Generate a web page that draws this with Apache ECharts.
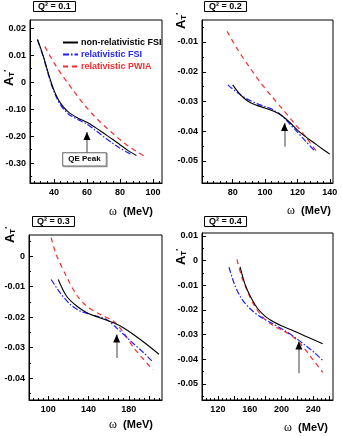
<!DOCTYPE html>
<html>
<head>
<meta charset="utf-8">
<script src="https://cdn.jsdelivr.net/npm/echarts@6/dist/echarts.min.js"></script>
<style>
html,body{margin:0;padding:0;background:#fff}
#chart{width:342px;height:436px}
</style>
</head>
<body>
<div id="chart"></div>
<script>
// omega (MeV), A_T' pairs
var q1NonRel = [[30,0.0158],[32,0.0125],[34,0.0088],[36,0.0045],[38,0.0005],[40,-0.003],[42,-0.0057],[44,-0.0078],[46,-0.0094],[48,-0.0107],[50,-0.0117],[55,-0.0135],[60,-0.0149],[65,-0.0168],[70,-0.0189],[75,-0.021],[80,-0.0232],[85,-0.0254],[90,-0.0272]];
var q1RelFsi = [[30,0.0158],[32,0.0122],[34,0.0083],[36,0.004],[38,0.0],[40,-0.0035],[42,-0.0063],[44,-0.0085],[46,-0.0101],[48,-0.0114],[50,-0.0124],[55,-0.014],[60,-0.0156],[65,-0.0178],[70,-0.0202],[75,-0.0224],[80,-0.0245],[85,-0.0262],[87,-0.0269]];
var q1Pwia = [[34.5,0.0132],[37.5,0.0098],[40,0.0072],[44,0.0034],[48,0.0],[52,-0.0033],[56,-0.0066],[60,-0.0096],[64,-0.0123],[68,-0.0148],[72,-0.017],[76,-0.0192],[80,-0.0213],[85,-0.0237],[90,-0.0257],[95,-0.0275]];

var q2NonRel = [[80,-0.0244],[83,-0.0266],[87,-0.0289],[91,-0.0304],[95,-0.0313],[100,-0.0322],[105,-0.0332],[110,-0.0346],[115,-0.0369],[120,-0.0396],[125,-0.0418],[130,-0.0438],[135,-0.0458],[140,-0.0477]];
var q2RelFsi = [[77,-0.0244],[83,-0.0271],[89,-0.0292],[95,-0.0307],[100,-0.0317],[105,-0.0328],[110,-0.0346],[115,-0.0374],[120,-0.0403],[125,-0.0433],[131,-0.0468]];
var q2Pwia = [[76.5,-0.0064],[83,-0.0125],[90,-0.0182],[97,-0.0235],[104,-0.0282],[111,-0.0327],[118,-0.0373],[125,-0.0418],[132,-0.047]];

var q3NonRel = [[110,-0.0077],[118,-0.013],[128,-0.0163],[138,-0.0185],[150,-0.0201],[165,-0.0219],[175,-0.0236],[185,-0.0258],[198,-0.029],[210,-0.0322]];
var q3RelFsi = [[103,-0.0077],[112,-0.0121],[122,-0.0159],[132,-0.0181],[145,-0.0194],[158,-0.0208],[168,-0.0236],[182,-0.0279],[195,-0.0318],[204,-0.0347]];
var q3Pwia = [[103,0.006],[108,0.0005],[118,-0.0066],[128,-0.0126],[138,-0.0164],[152,-0.0192],[165,-0.0214],[175,-0.0252],[185,-0.0301],[195,-0.034],[204,-0.0373]];

var q4NonRel = [[148,-0.0025],[154,-0.0094],[162,-0.0152],[170,-0.0194],[180,-0.0227],[190,-0.0248],[200,-0.0264],[215,-0.0284],[232,-0.0309],[252,-0.0337]];
var q4RelFsi = [[134,-0.0027],[141,-0.0097],[150,-0.0155],[160,-0.0193],[171,-0.0222],[187,-0.0252],[204,-0.0283],[217,-0.0311],[230,-0.0343],[242,-0.0374],[253,-0.0408]];
var q4Pwia = [[144,0.0005],[150,-0.0065],[158,-0.013],[166,-0.0183],[177,-0.0231],[188,-0.026],[200,-0.0281],[213,-0.0304],[225,-0.0341],[238,-0.0394],[252,-0.0453]];

// tick labels
var q1XLabels = [40, 60, 80, 100];
var q1YLabels = [0.02, 0.01, 0, -0.01, -0.02, -0.03];
var q1YText = ['0.02', '0.01', '0', '-0.10', '-0.20', '-0.30'];
var q2XLabels = [80, 100, 120, 140];
var q2YLabels = [-0.01, -0.02, -0.03, -0.04, -0.05];
var q3XLabels = [100, 140, 180];
var q3YLabels = [0, -0.01, -0.02, -0.03, -0.04];
var q4XLabels = [120, 160, 200, 240];
var q4YLabels = [0.01, 0, -0.01, -0.02, -0.03, -0.04, -0.05];

var font = 'Liberation Sans, Arial, sans-serif';
var names = ['non-relativistic FSI', 'relativistic FSI', 'relativistic PWIA'];

function steps(a, b, s) {
    var out = [];
    for (var v = a; v <= b + s / 1000; v += s) out.push(Math.round(v * 1e6) / 1e6);
    return out;
}

var panels = [
    {q: '0.1', d: [q1NonRel, q1RelFsi, q1Pwia], grid: {left: 30, top: 20, width: 132, height: 163},
     xMin: 25.5, xMax: 105.5, yMin: -0.0374, yMax: 0.023,
     xLab: q1XLabels, xMaj: steps(40, 100, 20), xMin2: steps(28, 104, 4),
     yLab: q1YLabels, yText: q1YText, yMaj: steps(-0.03, 0.02, 0.01), yMinor: steps(-0.035, 0.015, 0.01),
     arrow: [60, -0.0263, -0.0185], title: [33, 1], yName: [9, 78], xName: [153, 212]},
    {q: '0.2', d: [q2NonRel, q2RelFsi, q2Pwia], grid: {left: 202, top: 20, width: 131, height: 163},
     xMin: 61, xMax: 142, yMin: -0.0574, yMax: -0.0026,
     xLab: q2XLabels, xMaj: steps(80, 140, 20), xMin2: steps(64, 140, 4),
     yLab: q2YLabels, yMaj: steps(-0.05, -0.01, 0.01), yMinor: steps(-0.055, -0.005, 0.01),
     arrow: [112, -0.0452, -0.0372], title: [204, 1], yName: [181, 21], xName: [331, 211]},
    {q: '0.3', d: [q3NonRel, q3RelFsi, q3Pwia], grid: {left: 29, top: 235, width: 133, height: 165},
     xMin: 81, xMax: 213, yMin: -0.0472, yMax: 0.0069,
     xLab: q3XLabels, xMaj: steps(100, 200, 20), xMin2: steps(85, 210, 5),
     yLab: q3YLabels, yMaj: steps(-0.04, 0, 0.01), yMinor: steps(-0.045, 0.005, 0.01),
     arrow: [168, -0.0334, -0.0257], title: [32, 216], yName: [10, 235], xName: [153, 425]},
    {q: '0.4', d: [q4NonRel, q4RelFsi, q4Pwia], grid: {left: 202, top: 233, width: 131, height: 167},
     xMin: 100, xMax: 265, yMin: -0.0565, yMax: 0.0112,
     xLab: q4XLabels, xMaj: steps(120, 260, 20), xMin2: steps(105, 260, 5),
     yLab: q4YLabels, yMaj: steps(-0.05, 0.01, 0.01), yMinor: steps(-0.055, 0.005, 0.01),
     arrow: [222, -0.0457, -0.0328], title: [204, 216], yName: [181, 257], xName: [328, 428]}
];

var styles = [
    {color: '#000000', type: 'solid', width: 1.1},
    {color: '#1f1fff', type: [6, 2, 1.5, 2], width: 1.2},
    {color: '#ff2a2a', type: [5, 4], width: 1.2}
];

var option = {
    animation: false,
    backgroundColor: '#fff',
    title: [], grid: [], xAxis: [], yAxis: [], series: [], graphic: [],
    legend: {
        left: 57, top: 33, orient: 'vertical', itemWidth: 15, itemHeight: 10, itemGap: 3,
        selectedMode: false,
        itemStyle: {opacity: 0},
        lineStyle: {opacity: 1},
        textStyle: {fontSize: 9, fontWeight: 'bold', fontFamily: font, padding: [0, 0, 0, -2]},
        data: [
            {name: names[0], textStyle: {color: '#000'}},
            {name: names[1], textStyle: {color: '#1f1fff'}},
            {name: names[2], textStyle: {color: '#ff2a2a'}}
        ]
    }
};

panels.forEach(function (p, i) {
    option.title.push({
        text: 'Q² = ' + p.q, left: p.title[0], top: p.title[1], padding: [1, 5],
        borderColor: '#000', borderWidth: 1,
        textStyle: {fontSize: 9, fontWeight: 'bold', fontFamily: font, color: '#000'}
    });
    option.grid.push({left: p.grid.left, top: p.grid.top, width: p.grid.width, height: p.grid.height,
        show: true, borderColor: '#000', borderWidth: 1, backgroundColor: 'transparent'});
    var lbl = {fontSize: 9, fontWeight: 'bold', fontFamily: font, color: '#000'};
    option.xAxis.push({
        type: 'value', gridIndex: i, position: 'bottom', min: p.xMin, max: p.xMax,
        axisLine: {onZero: false, lineStyle: {color: '#000', width: 1}},
        axisTick: {inside: true, length: 4, customValues: p.xMaj, lineStyle: {color: '#000'}},
        axisLabel: Object.assign({customValues: p.xLab, margin: 5}, lbl),
        splitLine: {show: false}
    }, {
        type: 'value', gridIndex: i, position: 'bottom', min: p.xMin, max: p.xMax,
        axisLine: {show: false, onZero: false},
        axisTick: {inside: true, length: 2, customValues: p.xMin2, lineStyle: {color: '#000'}},
        axisLabel: {show: false}, splitLine: {show: false}
    });
    var yText = p.yText;
    var yLab = p.yLab;
    option.yAxis.push({
        type: 'value', gridIndex: i, position: 'left', min: p.yMin, max: p.yMax,
        axisLine: {show: true, onZero: false, lineStyle: {color: '#000', width: 1}},
        axisTick: {show: true, inside: true, length: 4, customValues: p.yMaj, lineStyle: {color: '#000'}},
        axisLabel: Object.assign({
            customValues: yLab, margin: 4,
            formatter: function (v) {
                if (yText) {
                    for (var k = 0; k < yLab.length; k++) {
                        if (Math.abs(yLab[k] - v) < 1e-6) return yText[k];
                    }
                }
                return Math.abs(v) < 1e-9 ? '0' : v.toFixed(2);
            }
        }, lbl),
        splitLine: {show: false}
    }, {
        type: 'value', gridIndex: i, position: 'left', min: p.yMin, max: p.yMax,
        axisLine: {show: false, onZero: false},
        axisTick: {show: true, inside: true, length: 2, customValues: p.yMinor, lineStyle: {color: '#000'}},
        axisLabel: {show: false}, splitLine: {show: false}
    });

    p.d.forEach(function (data, k) {
        var s = {
            type: 'line', name: names[k], xAxisIndex: 2 * i, yAxisIndex: 2 * i, data: data,
            smooth: 0.3, symbol: 'none', showSymbol: false, silent: true,
            lineStyle: styles[k], itemStyle: {color: styles[k].color}, z: 3 + (2 - k)
        };
        if (k === 0) {
            var a = p.arrow;
            s.markLine = {
                silent: true, symbol: ['none', 'none'], label: {show: false},
                lineStyle: {color: '#808080', width: 1.5, type: 'solid'},
                data: [[{coord: [a[0], a[1]]}, {coord: [a[0], a[2]]}]]
            };
            var mp = [{coord: [a[0], a[2]], symbol: 'triangle', symbolSize: [7, 8], symbolOffset: [0, 4],
                itemStyle: {color: '#000'}, label: {show: false}}];
            if (i === 0) {
                mp.push({coord: [58.5, -0.0286], symbol: 'rect', symbolSize: 1,
                    itemStyle: {color: 'rgba(0,0,0,0)'},
                    label: {show: true, position: 'inside', formatter: 'QE Peak', fontSize: 8,
                        fontWeight: 'bold', fontFamily: font, color: '#000', backgroundColor: '#fff',
                        borderColor: '#666', borderWidth: 1, padding: [2, 5],
                        shadowColor: '#999', shadowOffsetX: 1, shadowOffsetY: 1}});
            }
            s.markPoint = {silent: true, data: mp};
        }
        option.series.push(s);
    });

    option.graphic.push({
        type: 'text', x: p.yName[0], y: p.yName[1], rotation: Math.PI / 2,
        style: {
            text: '{a|A}{t|T}{p|\u2032}', align: 'center', verticalAlign: 'middle',
            rich: {
                a: {fontSize: 13, fontWeight: 'bold', fontFamily: font, fill: '#000'},
                t: {fontSize: 8, fontWeight: 'bold', fontFamily: font, fill: '#000', verticalAlign: 'bottom', padding: [4, 0, 0, 0]},
                p: {fontSize: 8, fontWeight: 'bold', fontFamily: font, fill: '#000', verticalAlign: 'top'}
            }
        }
    }, {
        type: 'text', x: p.xName[0], y: p.xName[1],
        style: {
            text: '{w|\u03c9}{m|  (MeV)}', align: 'right', verticalAlign: 'middle',
            rich: {
                w: {fontSize: 12, fontFamily: 'Liberation Serif, Times New Roman, serif', fill: '#000'},
                m: {fontSize: 11, fontWeight: 'bold', fontFamily: font, fill: '#000'}
            }
        }
    });
});

var chart = echarts.init(document.getElementById('chart'), null, {renderer: 'canvas'});
chart.setOption(option);
</script>
</body>
</html>
